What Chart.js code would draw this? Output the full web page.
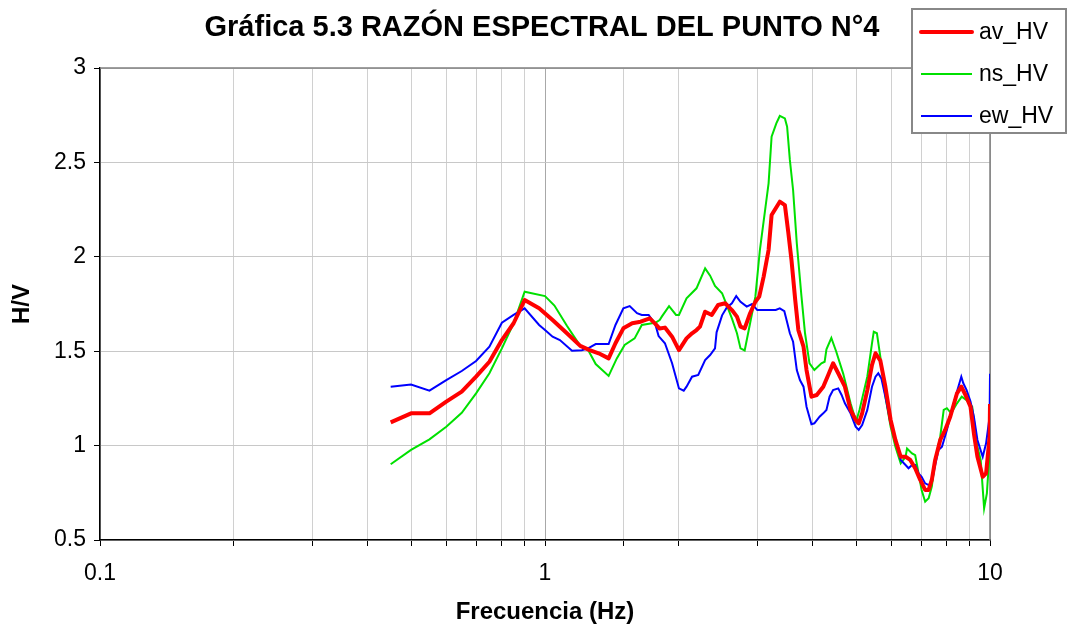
<!DOCTYPE html>
<html><head><meta charset="utf-8">
<script src="https://cdn.jsdelivr.net/npm/chart.js@4"></script>
<style>html,body{margin:0;padding:0;background:#fff}#wrap{width:1069px;height:630px}</style>
</head><body><div id="wrap"><canvas id="c" width="1069" height="630"></canvas></div>
<script>
const titleText = 'Gráfica 5.3 RAZÓN ESPECTRAL DEL PUNTO N°4';
const xTitle = 'Frecuencia (Hz)';
const yTitle = 'H/V';
const seriesNames = ['av_HV', 'ns_HV', 'ew_HV'];
const seriesColors = ['#ff0000', '#00e000', '#0000ff'];
const xTickLabels = [0.1, 1, 10];
const yTickValues = [0.5, 1, 1.5, 2, 2.5, 3];

const freqAv = [0.45,0.50,0.55,0.60,0.65,0.70,0.75,0.80,0.85,0.90,0.97,1.04,1.12,1.20,1.26,1.32,1.39,1.44,1.50,1.57,1.64,1.72,1.77,1.81,1.86,1.93,2.00,2.08,2.14,2.19,2.23,2.29,2.37,2.45,2.54,2.63,2.70,2.75,2.81,2.89,2.97,3.03,3.10,3.18,3.23,3.37,3.46,3.52,3.58,3.65,3.71,3.81,3.87,3.97,4.08,4.22,4.33,4.44,4.56,4.72,4.86,4.99,5.07,5.16,5.30,5.43,5.53,5.67,5.82,5.98,6.13,6.30,6.46,6.62,6.79,6.97,7.15,7.28,7.40,7.53,7.73,7.93,8.14,8.43,8.62,8.81,9.04,9.20,9.37,9.63,9.80,9.98,10.0];
const avHV = [1.123,1.171,1.171,1.233,1.286,1.365,1.444,1.559,1.648,1.771,1.727,1.665,1.595,1.528,1.506,1.489,1.462,1.542,1.621,1.648,1.656,1.674,1.645,1.620,1.625,1.577,1.506,1.568,1.595,1.612,1.630,1.709,1.692,1.745,1.754,1.718,1.683,1.630,1.621,1.701,1.762,1.789,1.895,2.036,2.221,2.292,2.274,2.133,1.983,1.771,1.612,1.524,1.400,1.259,1.268,1.312,1.374,1.436,1.383,1.312,1.189,1.136,1.118,1.171,1.294,1.427,1.489,1.450,1.312,1.136,1.030,0.941,0.941,0.924,0.880,0.818,0.765,0.765,0.818,0.924,1.030,1.083,1.153,1.277,1.312,1.268,1.206,1.065,0.941,0.835,0.853,1.047,1.220];

const freqNs = [0.45,0.50,0.55,0.60,0.65,0.70,0.75,0.80,0.85,0.90,1.00,1.05,1.12,1.20,1.25,1.30,1.39,1.45,1.51,1.59,1.65,1.74,1.77,1.81,1.83,1.90,1.97,2.00,2.08,2.19,2.29,2.35,2.41,2.50,2.56,2.63,2.70,2.75,2.81,2.89,2.97,3.04,3.13,3.18,3.23,3.31,3.37,3.46,3.50,3.55,3.61,3.68,3.77,3.84,3.93,4.03,4.18,4.25,4.29,4.40,4.51,4.68,4.86,5.00,5.09,5.30,5.43,5.48,5.57,5.67,5.82,5.98,6.13,6.30,6.46,6.51,6.68,6.79,6.91,7.02,7.15,7.28,7.40,7.53,7.73,7.87,8.00,8.18,8.43,8.64,8.86,9.12,9.37,9.53,9.70,9.84,10.0];
const nsHV = [0.901,0.977,1.033,1.100,1.174,1.277,1.383,1.515,1.648,1.815,1.792,1.742,1.635,1.528,1.506,1.432,1.369,1.462,1.533,1.568,1.639,1.648,1.650,1.665,1.683,1.739,1.692,1.692,1.780,1.833,1.939,1.900,1.846,1.807,1.745,1.674,1.595,1.515,1.504,1.648,1.789,2.036,2.265,2.389,2.636,2.707,2.746,2.733,2.689,2.513,2.354,2.071,1.790,1.595,1.436,1.400,1.436,1.444,1.510,1.570,1.500,1.380,1.224,1.127,1.189,1.365,1.542,1.603,1.595,1.470,1.259,1.100,0.994,0.906,0.941,0.985,0.959,0.950,0.853,0.765,0.703,0.721,0.783,0.924,1.047,1.189,1.198,1.171,1.224,1.259,1.241,1.206,0.994,0.924,0.668,0.747,1.000];

const freqEw = [0.45,0.50,0.55,0.60,0.65,0.70,0.75,0.80,0.85,0.90,0.97,1.00,1.04,1.08,1.15,1.21,1.25,1.30,1.39,1.44,1.50,1.55,1.61,1.65,1.71,1.77,1.80,1.86,1.93,2.00,2.05,2.08,2.14,2.21,2.29,2.35,2.41,2.43,2.50,2.56,2.63,2.69,2.75,2.84,2.92,3.00,3.20,3.30,3.37,3.45,3.49,3.55,3.61,3.68,3.74,3.81,3.87,3.97,4.03,4.14,4.22,4.29,4.36,4.44,4.56,4.64,4.72,4.86,4.99,5.07,5.16,5.30,5.43,5.53,5.61,5.70,5.82,5.98,6.13,6.30,6.46,6.56,6.68,6.79,6.91,7.02,7.15,7.28,7.40,7.53,7.66,7.80,8.00,8.21,8.43,8.62,8.71,8.86,9.04,9.20,9.37,9.63,9.80,9.98,10.0];
const ewHV = [1.312,1.324,1.291,1.347,1.395,1.448,1.524,1.651,1.692,1.727,1.639,1.612,1.577,1.559,1.503,1.505,1.515,1.538,1.538,1.639,1.727,1.739,1.701,1.692,1.692,1.642,1.580,1.542,1.436,1.303,1.291,1.312,1.365,1.374,1.453,1.480,1.515,1.600,1.690,1.730,1.754,1.792,1.762,1.736,1.750,1.718,1.718,1.718,1.727,1.712,1.665,1.595,1.550,1.400,1.347,1.312,1.206,1.113,1.118,1.153,1.171,1.189,1.259,1.294,1.303,1.268,1.224,1.171,1.100,1.083,1.109,1.189,1.312,1.365,1.383,1.356,1.259,1.118,1.030,0.924,0.897,0.880,0.897,0.897,0.853,0.835,0.800,0.791,0.809,0.897,0.977,0.994,1.083,1.189,1.286,1.365,1.330,1.294,1.233,1.153,1.030,0.941,1.012,1.153,1.380];

const FONT = "'Liberation Sans', Arial, Helvetica, sans-serif";
const toPts = (xs, ys) => xs.map((x, i) => ({x: x, y: ys[i]}));
const isMajor = v => Math.abs(Math.log10(v) - Math.round(Math.log10(v))) < 1e-6;

const frameAndTitle = {
  id: 'frameAndTitle',
  beforeDatasetsDraw(chart) {
    const {ctx, chartArea: a} = chart;
    ctx.save();
    ctx.strokeStyle = '#808080';
    ctx.lineWidth = 1.5;
    ctx.beginPath();
    ctx.moveTo(a.left, a.top); ctx.lineTo(a.right, a.top); ctx.lineTo(a.right, a.bottom);
    ctx.stroke();
    ctx.restore();
  },
  afterDraw(chart) {
    const ctx = chart.ctx;
    ctx.save();
    ctx.fillStyle = '#000';
    ctx.font = 'bold 29px ' + FONT;
    ctx.textAlign = 'center';
    ctx.textBaseline = 'middle';
    ctx.fillText(titleText, 542, 28);
    // legend
    const bx = 912, by = 9, bw = 154, bh = 124;
    ctx.fillStyle = '#fff';
    ctx.fillRect(bx, by, bw, bh);
    ctx.strokeStyle = '#888';
    ctx.lineWidth = 2;
    ctx.strokeRect(bx, by, bw, bh);
    const rows = [32, 74, 116];
    const widths = [4, 2, 2];
    ctx.font = '23px ' + FONT;
    ctx.textAlign = 'left';
    ctx.textBaseline = 'middle';
    chart.data.datasets.forEach((ds, i) => {
      ctx.strokeStyle = ds.borderColor;
      ctx.lineWidth = widths[i];
      ctx.lineCap = i === 0 ? 'round' : 'butt';
      ctx.beginPath();
      ctx.moveTo(921, rows[i]); ctx.lineTo(972, rows[i]);
      ctx.stroke();
      ctx.fillStyle = '#000';
      ctx.fillText(ds.label, 979, rows[i] + 1);
    });
    ctx.restore();
  }
};

new Chart(document.getElementById('c'), {
  type: 'line',
  data: {
    datasets: [
      {label: seriesNames[0], data: toPts(freqAv, avHV), borderColor: seriesColors[0], borderWidth: 4, order: 0, borderJoinStyle: 'round'},
      {label: seriesNames[1], data: toPts(freqNs, nsHV), borderColor: seriesColors[1], borderWidth: 2, order: 2},
      {label: seriesNames[2], data: toPts(freqEw, ewHV), borderColor: seriesColors[2], borderWidth: 2, order: 1}
    ]
  },
  options: {
    responsive: false,
    animation: false,
    devicePixelRatio: 1,
    layout: {padding: {left: 0, right: 79, top: 68, bottom: 0}},
    elements: {point: {radius: 0}, line: {tension: 0, fill: false}},
    plugins: {legend: {display: false}, tooltip: {enabled: false}, title: {display: false}},
    scales: {
      x: {
        type: 'logarithmic', min: 0.1, max: 10, position: 'bottom',
        afterFit(s) { s.height = 90; },
        grid: {
          color: ctx => (ctx.tick && isMajor(ctx.tick.value)) ? '#a8a8a8' : '#d0d0d0',
          lineWidth: 1, tickLength: 6, tickColor: '#000', drawTicks: true
        },
        border: {display: true, color: '#000', width: 1.5},
        ticks: {
          autoSkip: false, maxRotation: 0, minRotation: 0, padding: 14,
          color: '#000', font: {family: FONT, size: 23},
          callback(v) { return xTickLabels.some(t => Math.abs(t - v) < 1e-9) ? String(v) : ''; }
        },
        title: {display: true, text: xTitle, color: '#000', font: {family: FONT, size: 24, weight: 'bold'}, padding: {top: 0, bottom: 3}}
      },
      y: {
        min: 0.5, max: 3,
        afterFit(s) { s.width = 100; },
        afterBuildTicks(s) { s.ticks = yTickValues.map(v => ({value: v})); },
        grid: {color: '#c8c8c8', lineWidth: 1, tickLength: 6, tickColor: '#000'},
        border: {display: true, color: '#000', width: 1.5},
        ticks: {padding: 8, color: '#000', font: {family: FONT, size: 23}, callback: v => String(v)},
        title: {display: true, text: yTitle, color: '#000', font: {family: FONT, size: 24, weight: 'bold'}, padding: {top: 8, bottom: 0}}
      }
    }
  },
  plugins: [frameAndTitle]
});
</script>
</body></html>
